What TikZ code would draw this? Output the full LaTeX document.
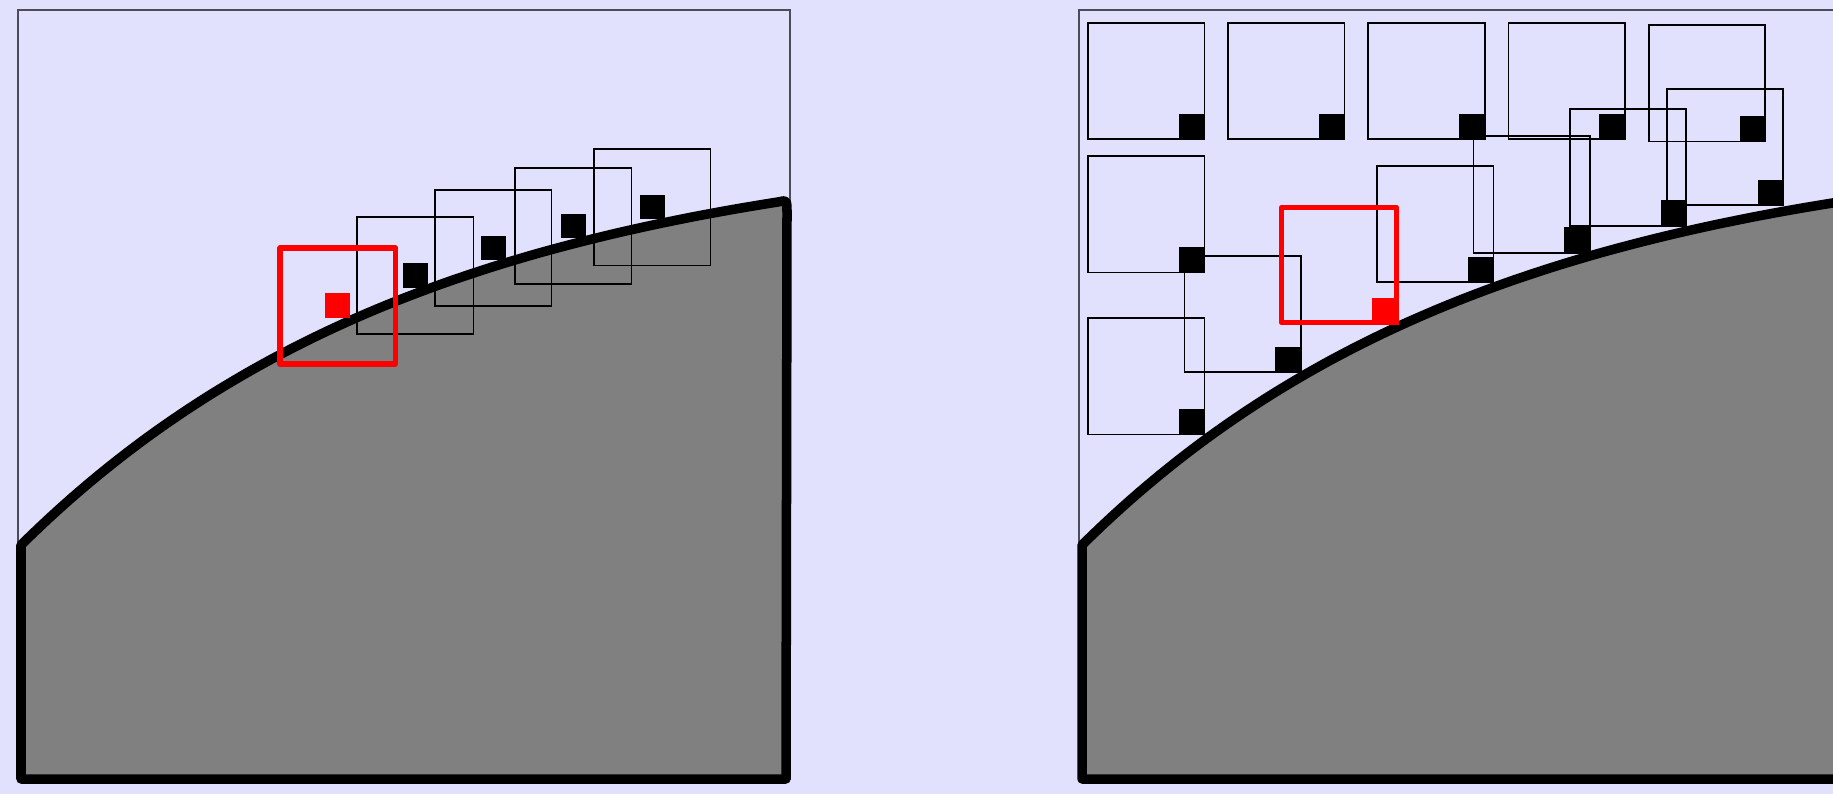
\documentclass[tikz,border=0pt]{standalone}
\definecolor{bgcol}{RGB}{225,225,254}
\definecolor{framecol}{RGB}{75,75,90}
\definecolor{shapecol}{RGB}{128,128,128}
\tikzset{
 framestyle/.style={draw=framecol,line width=0.016cm},
 landstyle/.style={fill=shapecol,draw=black,line width=0.095cm,line join=round},
 thinbox/.style={draw=black,line width=0.018cm},
 redbox/.style={draw=red,line width=0.056cm,line join=round},
}
\newcommand\mybox[2]{\draw[thinbox] (#1,#2) rectangle ++(116.5,116.5);}
\newcommand\cornersq[2]{\fill[black] ({#1+91},{#2+91}) rectangle ({#1+117},{#2+117});}
\newcommand\midsq[2]{\fill[black] ({#1+46},{#2+46}) rectangle ++(24.5,24.5);}
\begin{document}
\begin{tikzpicture}[x=0.01cm,y=-0.01cm]
\useasboundingbox (0,0) rectangle (1833,794);
\clip (0,0) rectangle (1833,794);
\fill[bgcol] (0,0) rectangle (1833,794);
\foreach \dx in {0,1061} {
 \begin{scope}[shift={(\dx,0)}]
 \draw[framestyle] (17.7,780) -- (17.7,10) -- (790,10) -- (790,780);
 \filldraw[landstyle] (21,779) -- (21,545) -- plot[domain=21:780,samples=80] (\x,{545-408*(1-exp(-(\x-21)/412))}) .. controls (787,200) .. (787,214) -- (786,779) -- cycle;
 \end{scope}
}
% left panel
\mybox{357}{217.3}\mybox{435}{189.7}\mybox{515}{167.7}\mybox{594}{149}
\midsq{357}{217.3}\midsq{435}{189.7}\midsq{515}{167.7}\midsq{594}{149}
\draw[redbox] (280,248) rectangle ++(115.5,116);
\fill[red] (325,293.3) rectangle (350,318.3);
% right panel
\mybox{1088}{22.7}\mybox{1228}{22.7}\mybox{1368.3}{22.7}\mybox{1508.4}{22.7}\mybox{1648.6}{25}
\mybox{1088}{156}\mybox{1088}{318}
\mybox{1184.4}{255.7}\mybox{1377}{165.7}\mybox{1473.4}{136.3}\mybox{1569.8}{109.3}\mybox{1666.6}{88.7}
\cornersq{1088}{22.7}\cornersq{1228}{22.7}\cornersq{1368.3}{22.7}\cornersq{1508.4}{22.7}\cornersq{1648.6}{25}
\cornersq{1088}{156}\cornersq{1088}{318}
\cornersq{1184.4}{255.7}\cornersq{1377}{165.7}\cornersq{1473.4}{136.3}\cornersq{1569.8}{109.3}\cornersq{1666.6}{88.7}
\draw[redbox] (1281.5,207.5) rectangle ++(115,115);
\fill[red] (1372,298) rectangle (1398.5,324.5);
\end{tikzpicture}
\end{document}
